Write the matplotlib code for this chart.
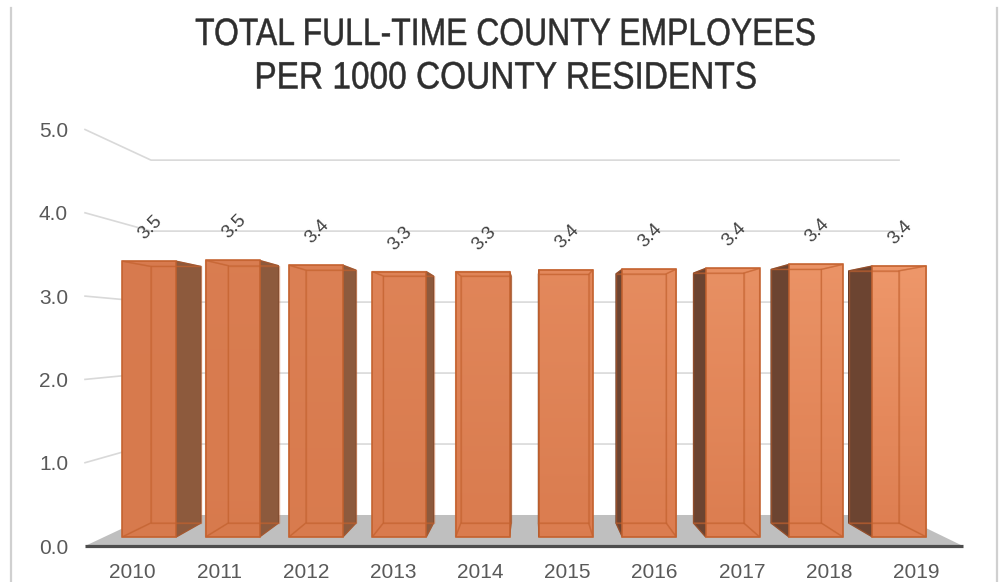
import matplotlib
matplotlib.use("Agg")
import matplotlib.pyplot as plt
import numpy as np
from matplotlib.patches import Polygon
from matplotlib.colors import to_rgb
from matplotlib.transforms import blended_transform_factory, offset_copy, Affine2D
from matplotlib.patheffects import AbstractPathEffect

# ---- data ----
years = ["2010", "2011", "2012", "2013", "2014", "2015", "2016", "2017", "2018", "2019"]
values = [3.46, 3.47, 3.41, 3.33, 3.33, 3.352, 3.36, 3.37, 3.42, 3.40]
y_ticks = [0, 1, 2, 3, 4, 5]
title_lines = ["TOTAL FULL-TIME COUNTY EMPLOYEES", "PER 1000 COUNTY RESIDENTS"]

body_font = "Liberation Sans"

W, H = 1005, 582
fig = plt.figure(figsize=(W / 100, H / 100), dpi=100)
ax = fig.add_axes([0, 0, 1, 1])
ax.axis("off")
ax.set_autoscale_on(False)


class HSqueeze(AbstractPathEffect):
    """Narrows glyphs horizontally around a fixed display x and thickens strokes a little."""

    def __init__(self, sx, cx, stroke=0.0):
        super().__init__()
        self.sx, self.cx, self.stroke = sx, cx, stroke

    def draw_path(self, renderer, gc, tpath, affine, rgbFace=None):
        squeeze = Affine2D().translate(-self.cx, 0).scale(self.sx, 1).translate(self.cx, 0)
        gc0 = renderer.new_gc()
        gc0.copy_properties(gc)
        if self.stroke and rgbFace is not None:
            gc0.set_foreground(rgbFace)
            gc0.set_linewidth(self.stroke)
        renderer.draw_path(gc0, tpath, affine + squeeze, rgbFace)
        gc0.restore()


# front plane of the 3-D box: category step and value unit in pixels
cx_px, step_px = 524.0, 87.1
base_px, unit_px = 546.0, 83.3
ax.set_xlim(4.5 - cx_px / step_px, 4.5 + (W - cx_px) / step_px)
ax.set_ylim((base_px - H) / unit_px, base_px / unit_px)

# perspective: vanishing point (data units) and depth shrink factor
vx = 4.5 + (531.0 - cx_px) / step_px
vy = (base_px - 336.5) / unit_px
depth_c = 1 / 0.852 - 1


def proj(x, v, z):
    s = 1.0 / (1.0 + depth_c * z)
    return (vx + (x - vx) * s, vy + (v - vy) * s)


n = len(years)
x_lo, x_hi = -0.54, n - 1 + 0.54

# ---- wall gridlines ----
for v in y_ticks[1:]:
    a, b, c = proj(x_lo, v, 0), proj(x_lo, v, 1), proj(x_hi, v, 1)
    ax.plot([a[0], b[0], c[0]], [a[1], b[1], c[1]], color="#D9D9D9", lw=1.2,
            solid_joinstyle="miter", zorder=1)

# ---- floor ----
floor = [proj(x_lo, 0, 0), proj(x_hi, 0, 0), proj(x_hi, 0, 1), proj(x_lo, 0, 1)]
ax.add_patch(Polygon(floor, closed=True, fc="#BFBFBF", ec="none", zorder=2))
ax.plot([floor[0][0], floor[1][0]], [floor[0][1], floor[1][1]], color="#4D4D4D",
        lw=2.3, solid_capstyle="butt", zorder=3)

# ---- bars ----
hw = 0.324
z0, z1 = 0.26, 0.71
edge_col = "#C4622F"


def mix(c1, c2, t):
    a, b = np.array(to_rgb(c1)), np.array(to_rgb(c2))
    return a + (b - a) * t


for i, v in enumerate(values):
    t = i / (n - 1)
    xl, xr = i - hw, i + hw
    front = [proj(xl, 0, z0), proj(xr, 0, z0), proj(xr, v, z0), proj(xl, v, z0)]
    back = [proj(xl, 0, z1), proj(xr, 0, z1), proj(xr, v, z1), proj(xl, v, z1)]
    left = [proj(xl, 0, z0), proj(xl, 0, z1), proj(xl, v, z1), proj(xl, v, z0)]
    right = [proj(xr, 0, z0), proj(xr, 0, z1), proj(xr, v, z1), proj(xr, v, z0)]
    bottom = [proj(xl, 0, z0), proj(xr, 0, z0), proj(xr, 0, z1), proj(xl, 0, z1)]
    top = [proj(xl, v, z0), proj(xr, v, z0), proj(xr, v, z1), proj(xl, v, z1)]

    base_col = mix("#D77A4D", "#DE7F52", t)
    hidden = [back, bottom, top]
    if xr < vx:
        hidden.append(left)
        near, near_fc, near_ec = right, "#8D5A3D", "#7F4E33"
    elif xl > vx:
        hidden.append(right)
        near, near_fc, near_ec = left, "#6C4431", "#5E3A29"
    else:
        near = None

    for face in hidden:
        ax.add_patch(Polygon(face, closed=True, fc=base_col, ec="none", zorder=4))
    if near is not None:
        ax.add_patch(Polygon(near, closed=True, fc=near_fc, ec=near_ec, lw=0.8, zorder=5))

    # front face with a vertical light gradient
    top_col = mix("#D97C50", "#F09A6D", t ** 1.2)
    grad = np.linspace(0, 1, 64)[:, None, None]
    img = top_col[None, None, :] * (1 - grad) + base_col[None, None, :] * grad
    fx = [p[0] for p in front]
    fy = [p[1] for p in front]
    im = ax.imshow(img, extent=(min(fx), max(fx), min(fy), max(fy)), origin="upper",
                   aspect="auto", alpha=0.9, zorder=6, interpolation="bilinear")
    im.set_clip_path(Polygon(front, closed=True, transform=ax.transData))

    # edges of the far faces, seen through the translucent front
    for face in hidden:
        ax.add_patch(Polygon(face, closed=True, fc="none", ec=edge_col, lw=1.0,
                             alpha=0.5, zorder=7))
    ax.add_patch(Polygon(front, closed=True, fc="none", ec=edge_col, lw=1.1, zorder=8))

    # value label
    ax.annotate(f"{v:.1f}", xy=proj(i, v, z0), xytext=(1, 24), textcoords="offset points",
                ha="center", va="center", rotation=45, rotation_mode="anchor",
                fontsize=13.5, color="#404040", family=body_font, zorder=9)

# ---- axis labels ----
ytrans = offset_copy(blended_transform_factory(fig.transFigure, ax.transData), fig=fig,
                     x=0, y=-7.5, units="dots")
for v in y_ticks:
    ax.text(68 / W, v, f"{v:.1f}", transform=ytrans, ha="right", va="baseline",
            fontsize=15, color="#595959", family=body_font)

xtrans = blended_transform_factory(ax.transData, fig.transFigure)
for i, yr in enumerate(years):
    ax.text(i, 1 - 578 / H, yr, transform=xtrans, ha="center", va="baseline",
            fontsize=15, color="#595959", family=body_font)

# ---- title (condensed capitals) ----
title_cx = 506
for k, (line, sx) in enumerate(zip(title_lines, (0.835, 0.875))):
    fig.text(title_cx / W, 1 - (45 + 43.5 * k) / H, line, ha="center", va="baseline",
             fontsize=27.5, color="#2E2E2E", family=body_font,
             path_effects=[HSqueeze(sx, title_cx, stroke=0.35)])

# ---- chart border ----
for xb in (11, 997):
    fig.add_artist(plt.Line2D([xb / W, xb / W], [0, 1 - 8 / H], transform=fig.transFigure,
                              color="#D0D0D0", lw=1.6))

fig.savefig("out.png", dpi=100)
